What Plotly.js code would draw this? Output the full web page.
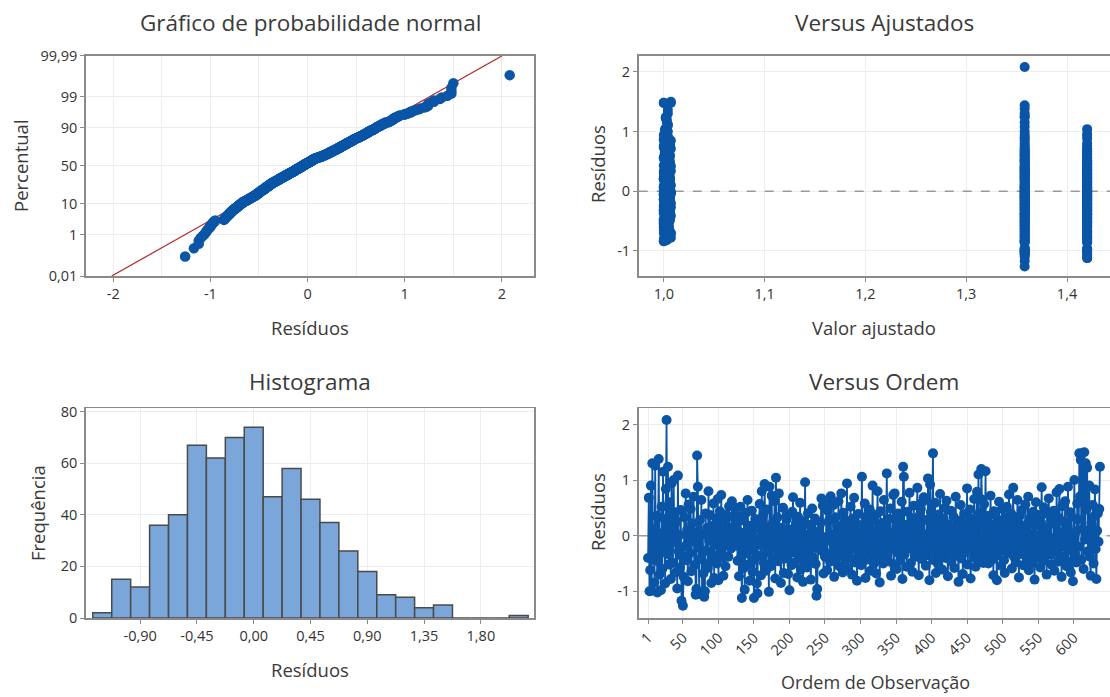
<!DOCTYPE html>
<html>
<head>
<meta charset="utf-8">
<script src="https://cdn.plot.ly/plotly-3.0.1.min.js"></script>
<style>
html,body{margin:0;padding:0;background:#fff;overflow:hidden;}
#chart{width:1130px;height:697px;}
</style>
</head>
<body>
<div id="chart"></div>
<script>
// ---------------- DATA ----------------
// Residuals in observation order, group fitted at ~1,358 (obs 1-125)
const residuosGrupoA = [
-0.40,0.68,-1.00,-0.62,0.90,-0.99,1.30,-0.30,0.12,-0.84,
1.26,-0.45,0.36,-1.02,-0.15,1.38,-0.70,0.04,-0.98,0.52,
-0.60,1.15,-0.22,0.30,-0.86,0.84,2.08,-0.33,1.24,-0.52,
0.60,-0.07,-0.78,0.94,0.18,-0.49,1.00,-0.12,0.42,-0.66,
0.25,-0.95,1.08,-0.28,0.01,-0.57,0.46,-1.17,-0.37,-1.26,
-0.74,0.33,-0.19,0.76,-0.44,0.10,-0.82,0.56,-0.04,-0.31,
0.48,-0.64,0.22,-0.10,0.70,-0.53,0.06,-1.06,-0.96,1.44,
0.88,-0.21,-1.05,0.28,-0.42,0.64,-1.03,0.02,-0.68,-1.10,
-1.00,0.40,-0.27,0.14,-0.58,0.80,-0.09,0.37,-0.47,-0.85,
0.05,-0.35,0.58,-0.76,0.20,-0.16,0.31,-0.50,0.66,-0.80,
-0.03,0.44,-0.25,0.73,-0.39,0.08,-0.72,0.26,-0.13,-0.55,
0.38,-0.06,0.16,-0.38,0.53,-0.18,0.00,-0.23,0.62,-0.02,0.34,-0.08,0.50,0.07,0.23
];
// Residuals, group fitted at 1,42 (obs 126-250)
const residuosGrupoB = [
0.12,-0.45,0.35,-0.73,-0.20,0.52,-0.38,-1.12,0.05,-0.59,
0.27,-0.97,-0.10,0.41,-0.32,0.64,-0.52,0.00,-0.81,0.18,
-0.26,0.45,-0.65,0.09,-1.12,-0.43,0.30,-0.14,-0.86,-1.04,
0.22,-0.06,0.57,-0.36,-0.71,0.80,-0.18,0.37,-0.49,0.93,
-0.02,-0.63,0.47,-0.29,0.15,-1.01,0.88,-0.08,-0.55,0.72,
-0.40,0.24,-0.22,0.62,-0.77,1.04,-0.12,0.33,-0.46,0.76,
0.02,-0.33,-0.85,0.14,-0.04,0.50,-0.67,-0.24,0.07,-0.41,
0.29,-0.15,-0.69,0.38,-0.98,-0.19,0.11,-0.53,0.43,0.69,
-0.30,0.03,-0.48,0.21,-0.09,-0.75,0.34,-0.37,-0.01,0.59,
-0.61,0.16,-0.27,-0.83,0.26,-0.11,0.96,-0.44,0.01,-0.57,
0.40,-0.34,-0.07,0.19,-0.79,-0.21,0.49,-0.39,0.06,-0.13,
0.31,-0.51,-1.08,-0.96,-0.23,0.08,-0.05,-0.17,0.23,0.67,
-0.28,0.54,-0.68,-0.03,-0.38
];
// Residuals, group fitted at ~1,00 (obs 251-637)
const residuosGrupoC = [
-0.35,0.57,-0.62,0.45,-0.08,0.28,-0.47,0.71,-0.45,0.02,
-0.28,0.55,-0.74,-0.05,0.33,-0.41,0.18,-0.19,0.62,-0.55,
0.09,-0.32,0.76,-0.12,-0.66,0.41,-0.03,0.25,-0.44,-0.21,
0.94,-0.58,0.15,-0.37,0.04,0.52,-0.25,-0.70,0.31,-0.10,
0.68,-0.48,-0.16,0.22,-0.81,0.06,0.39,-0.29,-0.01,0.05,
-0.53,1.06,-0.39,0.20,-0.06,0.58,-0.76,-0.22,0.35,-0.43,
0.10,-0.14,0.47,-0.63,0.27,-0.33,0.90,-0.09,-0.50,0.03,
0.37,-0.68,-0.18,0.80,-0.27,0.08,-0.84,0.44,-0.41,-0.40,
0.23,-0.50,0.64,-0.04,-0.36,0.17,1.12,-0.20,-0.46,0.30,
-0.13,0.49,-0.72,-0.24,0.05,0.73,-0.52,0.76,-0.07,0.34,
-0.60,-0.30,0.40,-0.17,0.26,-0.45,0.01,0.61,-0.78,1.24,
1.06,-0.34,-0.02,0.19,-0.56,0.43,-0.23,-0.04,0.77,-0.12,
-0.49,0.32,-0.65,-0.09,0.54,-0.26,0.07,-0.38,0.21,0.86,
-0.20,-0.71,0.36,-0.05,0.48,-0.42,0.60,-0.31,0.69,-0.15,
0.02,-0.54,0.28,-0.35,1.03,-0.11,-0.80,0.92,0.42,-0.27,
0.12,1.48,-0.44,-0.03,0.59,-0.67,0.24,-0.18,-0.51,0.38,
-0.42,0.75,-0.33,0.14,-0.61,0.04,0.31,-0.22,0.50,-0.40,
0.63,-0.14,-0.73,0.20,-0.29,0.00,0.45,-0.47,0.06,-0.19,
0.34,-0.58,-0.06,0.70,-0.36,0.18,-0.12,-0.83,0.27,-0.25,
0.55,-0.41,-0.01,-0.69,0.13,0.39,-0.30,0.06,-0.16,0.85,
-0.52,0.23,-0.09,0.47,-0.77,-0.23,0.30,0.03,-0.39,0.66,
-0.13,-0.56,0.16,0.79,-0.32,1.10,-0.04,0.41,-0.46,1.20,
0.65,-0.20,-0.49,0.57,0.01,1.16,-0.35,0.25,-0.11,-0.50,
0.36,-0.26,0.72,-0.07,-0.43,0.19,-0.71,0.44,-0.17,0.05,
-0.37,-0.80,0.29,-0.02,0.61,-0.28,0.11,-0.54,0.48,-0.10,
0.21,-0.44,-0.67,0.33,-0.15,0.52,-0.31,0.07,0.74,-0.24,
-0.05,0.40,-0.59,0.15,0.86,-0.38,-0.12,0.26,-0.48,0.02,
0.64,-0.21,-0.75,0.35,-0.02,-0.33,0.46,-0.08,-0.53,0.17,
-0.27,0.56,-0.03,-0.42,0.22,0.70,-0.62,-0.16,0.31,-0.36,
0.03,-0.49,0.43,-0.13,-0.79,0.18,0.60,-0.25,0.00,-0.40,
0.37,-0.18,-0.57,0.24,0.87,-0.30,0.04,0.51,-0.45,-0.09,
0.14,-0.70,0.39,-0.22,0.67,-0.06,-0.34,0.28,-0.52,-0.05,
-0.14,0.45,-0.63,0.20,-0.29,0.78,-0.01,-0.47,0.32,0.84,
-0.41,0.06,-0.74,0.53,-0.19,0.25,-0.37,0.62,-0.44,-0.55,
0.16,0.88,-0.26,-0.04,0.42,-0.66,0.34,-0.15,-0.82,0.01,
1.00,-0.32,0.07,-0.48,0.58,0.29,-0.20,1.48,0.71,1.36,
-0.43,1.48,0.12,-0.60,1.50,-0.07,1.30,0.47,1.22,-0.28,
0.03,0.90,-0.38,-0.72,0.23,-0.13,0.55,-0.50,0.35,0.83,
-0.24,-0.78,0.09,0.40,-0.11,0.48,1.24
];
// Fitted values
const ajusteGrupoA = 1.358;
const ajusteGrupoB = 1.42;
const ajustadosGrupoC = [
1.003,1.000,1.005,1.002,1.006,1.001,1.004,1.007,1.002,1.005,
1.001,1.004,1.006,1.000,1.003,1.007,1.002,1.005,1.001,1.004,
1.006,1.002,1.000,1.005,1.003,1.001,1.007,1.004,1.002,1.006,
1.000,1.003,1.005,1.001,1.006,1.004,1.002,1.007,1.000,1.003,
1.005,1.001,1.004,1.006,1.002,1.000,1.003,1.005,1.007,1.001,
1.004,1.002,1.006,1.000,1.005,1.003,1.001,1.004,1.006,1.002,
1.007,1.000,1.003,1.005,1.001,1.006,1.004,1.002,1.000,1.005,
1.002,1.006,1.001,1.004,1.007,1.003,1.000,1.005,1.002,1.004,
1.001,1.005,1.003,1.000,1.006,1.002,1.004,1.007,1.001,1.003,
1.006,1.002,1.004,1.001,1.005,1.000,1.003,1.006,1.002,1.007,
1.000,1.004,1.002,1.005,1.003,1.006,1.001,1.004,1.007,1.002,
1.003,1.001,1.006,1.004,1.000,1.005,1.002,1.007,1.003,1.001,
1.005,1.003,1.000,1.006,1.002,1.004,1.001,1.005,1.003,1.000,
1.002,1.007,1.004,1.001,1.005,1.003,1.006,1.000,1.004,1.002,
1.004,1.000,1.003,1.006,1.001,1.005,1.002,1.004,1.007,1.003,
1.001,1.000,1.005,1.002,1.006,1.003,1.000,1.004,1.001,1.005,
1.006,1.003,1.001,1.004,1.000,1.005,1.002,1.006,1.003,1.001,
1.003,1.005,1.002,1.000,1.004,1.006,1.001,1.003,1.005,1.002,
1.000,1.004,1.006,1.002,1.005,1.001,1.003,1.000,1.004,1.006,
1.005,1.002,1.000,1.003,1.006,1.004,1.001,1.005,1.002,1.007,
1.002,1.006,1.004,1.001,1.003,1.000,1.005,1.002,1.006,1.004,
1.004,1.001,1.003,1.006,1.000,1.004,1.002,1.005,1.001,1.003,
1.001,1.005,1.002,1.004,1.006,1.003,1.000,1.004,1.002,1.005,
1.006,1.003,1.005,1.000,1.002,1.006,1.004,1.001,1.003,1.000,
1.003,1.000,1.004,1.005,1.001,1.003,1.006,1.002,1.004,1.001,
1.000,1.006,1.002,1.003,1.005,1.001,1.004,1.000,1.006,1.003,
1.005,1.002,1.001,1.006,1.003,1.004,1.000,1.005,1.002,1.006,
1.002,1.004,1.006,1.001,1.003,1.000,1.005,1.003,1.001,1.004,
1.004,1.001,1.003,1.005,1.000,1.006,1.002,1.004,1.006,1.001,
1.001,1.006,1.000,1.003,1.004,1.002,1.005,1.001,1.003,1.006,
1.006,1.003,1.005,1.002,1.000,1.004,1.001,1.006,1.003,1.002,
1.003,1.000,1.002,1.006,1.005,1.001,1.003,1.004,1.000,1.005,
1.000,1.005,1.004,1.001,1.002,1.006,1.003,1.000,1.005,1.002,
1.005,1.002,1.006,1.003,1.001,1.004,1.000,1.002,1.006,1.003,
1.002,1.004,1.000,1.005,1.006,1.002,1.004,1.001,1.003,1.000,
1.004,1.001,1.003,1.000,1.005,1.002,1.006,1.007,1.001,1.004,
1.001,1.000,1.005,1.003,1.007,1.001,1.004,1.006,1.002,1.005,
1.006,1.003,1.001,1.004,1.002,1.005,1.000,1.003,1.006,1.001,
1.003,1.005,1.000,1.002,1.006,1.004,1.002
];
// Histogram (bin centres, width 0,15) and frequencies
const classesHistograma = [-1.20,-1.05,-0.90,-0.75,-0.60,-0.45,-0.30,-0.15,0.00,0.15,0.30,0.45,0.60,0.75,0.90,1.05,1.20,1.35,1.50,1.65,1.80,1.95,2.10];
const frequencias =       [2,15,12,36,40,67,62,70,74,47,58,46,37,26,18,9,8,4,5,0,0,0,1];
// Tick labels
const ticksPercentual   = [0.01,1,10,50,90,99,99.99];
const rotulosPercentual = ['0,01','1','10','50','90','99','99,99'];
const ticksResiduosX    = [-2,-1,0,1,2];
const rotulosResiduosX  = ['-2','-1','0','1','2'];
const ticksAjustado     = [1.0,1.1,1.2,1.3,1.4];
const rotulosAjustado   = ['1,0','1,1','1,2','1,3','1,4'];
const ticksResiduosY    = [-1,0,1,2];
const rotulosResiduosY  = ['-1','0','1','2'];
const ticksHistograma   = [-0.90,-0.45,0.00,0.45,0.90,1.35,1.80];
const rotulosHistograma = ['-0,90','-0,45','0,00','0,45','0,90','1,35','1,80'];
const ticksFrequencia   = [0,20,40,60,80];
const ticksOrdem        = [1,50,100,150,200,250,300,350,400,450,500,550,600];
const rotulosOrdem      = ['1','50','100','150','200','250','300','350','400','450','500','550','600'];
// Axis ranges
const faixaAjustado = [0.9751,1.4605];
const faixaOrdem    = [-12.2,676.5];
const referenciaZero = 0;

// ---------------- helpers ----------------
function invNorm(p){
  const a=[-3.969683028665376e+01,2.209460984245205e+02,-2.759285104469687e+02,1.383577518672690e+02,-3.066479806614716e+01,2.506628277459239e+00];
  const b=[-5.447609879822406e+01,1.615858368580409e+02,-1.556989798598866e+02,6.680131188771972e+01,-1.328068155288572e+01];
  const c=[-7.784894002430293e-03,-3.223964580411365e-01,-2.400758277161838e+00,-2.549732539343734e+00,4.374664141464968e+00,2.938163982698783e+00];
  const d=[7.784695709041462e-03,3.224671290700398e-01,2.445134137142996e+00,3.754408661907416e+00];
  const pl=0.02425, ph=1-pl; let q,r;
  if(p<pl){q=Math.sqrt(-2*Math.log(p));return (((((c[0]*q+c[1])*q+c[2])*q+c[3])*q+c[4])*q+c[5])/((((d[0]*q+d[1])*q+d[2])*q+d[3])*q+1);}
  if(p>ph){q=Math.sqrt(-2*Math.log(1-p));return -(((((c[0]*q+c[1])*q+c[2])*q+c[3])*q+c[4])*q+c[5])/((((d[0]*q+d[1])*q+d[2])*q+d[3])*q+1);}
  q=p-0.5;r=q*q;
  return (((((a[0]*r+a[1])*r+a[2])*r+a[3])*r+a[4])*r+a[5])*q/(((((b[0]*r+b[1])*r+b[2])*r+b[3])*r+b[4])*r+1);
}

const residuos = residuosGrupoA.concat(residuosGrupoB, residuosGrupoC);
const ajustados = residuosGrupoA.map(()=>ajusteGrupoA)
  .concat(residuosGrupoB.map(()=>ajusteGrupoB), ajustadosGrupoC);
const ordem = residuos.map((_,i)=>i+1);
const n = residuos.length;

// normal probability plot (median ranks)
const ordenados = residuos.slice().sort((x,y)=>x-y);
const zScores = ordenados.map((_,i)=>invNorm((i+1-0.3)/(n+0.4)));
const media = residuos.reduce((s,v)=>s+v,0)/n;
const desvio = Math.sqrt(residuos.reduce((s,v)=>s+(v-media)*(v-media),0)/(n-1));
const zMin = invNorm(0.0001), zMax = invNorm(0.9999);

// ---------------- styling ----------------
const W = 1130, H = 697;
const AZUL = '#0A55A6';
const GRID = '#EDEDED';
const FRAME = '#8A8A8A';
const TXT = '#333333';
const FONT = '"Open Sans", "Noto Sans", sans-serif';

function px(x){return x/W;}
function py(y){return 1-y/H;}

const eixoBase = {
  showline:true, mirror:true, linecolor:FRAME, linewidth:1.7,
  ticks:'outside', ticklen:4, tickcolor:FRAME, tickwidth:1,
  zeroline:false, showgrid:true, gridcolor:GRID, gridwidth:1,
  tickfont:{family:FONT, size:14.5, color:TXT}, fixedrange:true
};

const domEsq = [px(86), px(534)];
const domDir = [px(638.7), px(1128)];
const domTopo = [py(276), py(55.7)];
const domBase = [py(618), py(408.3)];

const linhaRef = {color:'#9A9A9A', width:1.5, dash:'dash'};

const traces = [
  { // fitted normal line
    x:[media+desvio*zMin, media+desvio*zMax], y:[zMin,zMax],
    xaxis:'x', yaxis:'y', mode:'lines', line:{color:'#B0282A', width:1.2},
    hoverinfo:'skip'
  },
  {
    x:ordenados, y:zScores, xaxis:'x', yaxis:'y', mode:'markers',
    marker:{color:AZUL, size:10.5}
  },
  { // reference line at zero (fits)
    x:faixaAjustado, y:[referenciaZero,referenciaZero], xaxis:'x2', yaxis:'y2',
    mode:'lines', line:linhaRef, hoverinfo:'skip'
  },
  {
    x:ajustados, y:residuos, xaxis:'x2', yaxis:'y2', mode:'markers',
    marker:{color:AZUL, size:10}
  },
  {
    type:'bar', x:classesHistograma, y:frequencias, width:0.15,
    xaxis:'x3', yaxis:'y3',
    marker:{color:'#7BA6DA', line:{color:'#4A4A4A', width:1.5}}
  },
  { // reference line at zero (order)
    x:faixaOrdem, y:[referenciaZero,referenciaZero], xaxis:'x4', yaxis:'y4',
    mode:'lines', line:linhaRef, hoverinfo:'skip'
  },
  {
    x:ordem, y:residuos, xaxis:'x4', yaxis:'y4', mode:'lines+markers',
    line:{color:AZUL, width:1.8}, marker:{color:AZUL, size:10}
  }
];

const layout = {
  width:W, height:H, margin:{l:0,r:0,t:0,b:0},
  paper_bgcolor:'#ffffff', plot_bgcolor:'#ffffff',
  showlegend:false, separators:',.',
  font:{family:FONT, size:14, color:TXT},
  bargap:0,
  xaxis: Object.assign({}, eixoBase, {
    domain:domEsq, anchor:'y', range:[-2.28,2.33],
    tickvals:ticksResiduosX, ticktext:rotulosResiduosX,
    minor:{dtick:0.5, tick0:0, showgrid:true, gridcolor:GRID, ticks:''}
  }),
  yaxis: Object.assign({}, eixoBase, {
    domain:domTopo, anchor:'x', range:[zMin,zMax],
    tickvals:ticksPercentual.map(v=>invNorm(v/100)), ticktext:rotulosPercentual
  }),
  xaxis2: Object.assign({}, eixoBase, {
    domain:domDir, anchor:'y2', range:faixaAjustado,
    tickvals:ticksAjustado, ticktext:rotulosAjustado
  }),
  yaxis2: Object.assign({}, eixoBase, {
    domain:domTopo, anchor:'x2', range:[-1.42,2.27],
    tickvals:ticksResiduosY, ticktext:rotulosResiduosY
  }),
  xaxis3: Object.assign({}, eixoBase, {
    domain:domEsq, anchor:'y3', range:[-1.329,2.221],
    tickvals:ticksHistograma, ticktext:rotulosHistograma
  }),
  yaxis3: Object.assign({}, eixoBase, {
    domain:domBase, anchor:'x3', range:[0,81.3],
    tickvals:ticksFrequencia
  }),
  xaxis4: Object.assign({}, eixoBase, {
    domain:domDir, anchor:'y4', range:faixaOrdem,
    tickvals:ticksOrdem, ticktext:rotulosOrdem, tickangle:-45
  }),
  yaxis4: Object.assign({}, eixoBase, {
    domain:domBase, anchor:'x4', range:[-1.48,2.29],
    tickvals:ticksResiduosY, ticktext:rotulosResiduosY
  }),
  annotations:[]
};

function texto(t, x, y, size, angle){
  layout.annotations.push({
    text:t, xref:'paper', yref:'paper', x:px(x), y:py(y),
    xanchor:'center', yanchor:'middle', showarrow:false,
    textangle:angle||0, font:{family:FONT, size:size, color:'#3A3A3A'}
  });
}
texto('Gráfico de probabilidade normal', 310, 22, 22.5);
texto('Versus Ajustados', 884, 22, 22.5);
texto('Histograma', 310, 381, 22.5);
texto('Versus Ordem', 884, 381, 22.5);
texto('Resíduos', 310, 327, 18.5);
texto('Percentual', 20, 166, 18.5, -90);
texto('Valor ajustado', 874, 327, 18.5);
texto('Resíduos', 597, 164, 18.5, -90);
texto('Frequência', 37, 513, 18.5, -90);
texto('Resíduos', 310, 669, 18.5);
texto('Ordem de Observação', 875, 682, 18);
texto('Resíduos', 597, 512, 18.5, -90);

Plotly.newPlot('chart', traces, layout, {displayModeBar:false, staticPlot:true});
</script>
</body>
</html>
